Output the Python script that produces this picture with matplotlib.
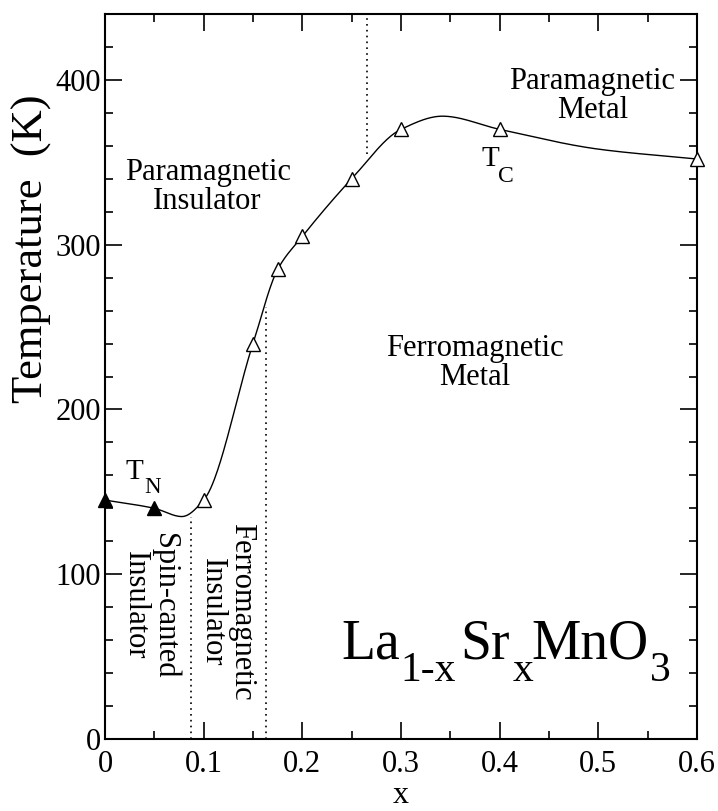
import numpy as np
import matplotlib
matplotlib.use("Agg")
import matplotlib.pyplot as plt
from matplotlib.ticker import MultipleLocator

plt.rcParams['font.family'] = ['Liberation Serif', 'DejaVu Serif']

# Neel temperatures (filled) and Curie temperatures (open)
x_neel = [0.0, 0.05]
t_neel = [145, 140]
x_curie = [0.1, 0.15, 0.175, 0.2, 0.25, 0.3, 0.4, 0.6]
t_curie = [145, 240, 285, 305, 340, 370, 370, 352]

# points
x_curve = [0.0, 0.05, 0.078, 0.1, 0.15, 0.175, 0.2, 0.25, 0.3, 0.342, 0.4, 0.5, 0.6]
t_curve = [145, 140, 135, 145, 240, 285, 305, 340, 370, 378, 370, 358, 352]

# dotted phase boundaries: x, lower T, upper T
x_bound = [0.087, 0.163, 0.266]
t_bound_lo = [0, 0, 355]
t_bound_hi = [135, 262, 440]

# formula pieces: text, x, baseline T, size
formula = [('La', 0.240, 49, 40), ('1-x', 0.299, 35, 30), ('Sr', 0.360, 49, 40),
           ('x', 0.4134, 35, 30), ('MnO', 0.4326, 49, 40), ('3', 0.5522, 35, 30)]
# T_N, T_C labels
temp_labels = [('T', 0.0203, 158, 21), ('N', 0.0395, 149, 16.5),
               ('T', 0.382, 348, 21), ('C', 0.398, 338, 17)]


def pchip(xk, yk, xs):
    """monotone cubic hermite through the knots"""
    xk = np.asarray(xk, float)
    yk = np.asarray(yk, float)
    h = np.diff(xk)
    d = np.diff(yk) / h
    m = np.zeros_like(yk)
    for i in range(1, len(xk) - 1):
        if d[i - 1] * d[i] > 0:
            w1 = 2 * h[i] + h[i - 1]
            w2 = h[i] + 2 * h[i - 1]
            m[i] = (w1 + w2) / (w1 / d[i - 1] + w2 / d[i])
    m[0] = d[0]
    m[-1] = d[-1]
    idx = np.clip(np.searchsorted(xk, xs) - 1, 0, len(h) - 1)
    t = (xs - xk[idx]) / h[idx]
    h00 = 2 * t**3 - 3 * t**2 + 1
    h10 = t**3 - 2 * t**2 + t
    h01 = -2 * t**3 + 3 * t**2
    h11 = t**3 - t**2
    return (h00 * yk[idx] + h10 * h[idx] * m[idx]
            + h01 * yk[idx + 1] + h11 * h[idx] * m[idx + 1])


fig = plt.figure(figsize=(7.18, 8.11), dpi=100)
ax = fig.add_axes([0.1462, 0.0888, 0.8246, 0.8939])

xs = np.linspace(0, 0.6, 600)
ax.plot(xs, pchip(x_curve, t_curve, xs), color='black', lw=1.0, zorder=2)

for xb, lo, hi in zip(x_bound, t_bound_lo, t_bound_hi):
    ax.plot([xb, xb], [lo, hi], color='black', ls=(0, (1, 2.5)), lw=1.2)

ax.plot(x_neel, t_neel, ls='none', marker='^', ms=10, color='black',
        clip_on=False, zorder=3)
ax.plot(x_curie, t_curie, ls='none', marker='^', ms=10, mfc='white',
        mec='black', mew=1.0, clip_on=False, zorder=3)

ax.set_xlim(0, 0.6)
ax.set_ylim(0, 440)
ax.xaxis.set_major_locator(MultipleLocator(0.1))
ax.xaxis.set_minor_locator(MultipleLocator(0.05))
ax.yaxis.set_major_locator(MultipleLocator(100))
ax.yaxis.set_minor_locator(MultipleLocator(20))
ax.set_xticks([0, 0.1, 0.2, 0.3, 0.4, 0.5, 0.6])
ax.set_xticklabels(['0', '0.1', '0.2', '0.3', '0.4', '0.5', '0.6'])
ax.tick_params(which='both', direction='in', top=True, right=True,
               labelsize=22, width=1.2)
ax.tick_params(which='major', length=12)
ax.tick_params(which='minor', length=6)
ax.tick_params(axis='x', pad=8)
ax.tick_params(axis='y', pad=3)
for s in ax.spines.values():
    s.set_linewidth(1.5)

xlab = ax.set_xlabel('x', fontsize=23)
xlab.set_va('baseline')
ax.xaxis.set_label_coords(0.5, -0.0883)
ax.set_ylabel('Temperature  (K)', fontsize=32)
ax.yaxis.set_label_coords(-0.09, 0.677)

ax.text(0.104, 335, 'Paramagnetic\nInsulator', fontsize=22, ha='center',
        va='center', linespacing=1.0)
ax.text(0.494, 390, 'Paramagnetic\nMetal', fontsize=22, ha='center',
        va='center', linespacing=1.0)
ax.text(0.375, 228, 'Ferromagnetic\nMetal', fontsize=22, ha='center',
        va='center', linespacing=1.0)
ax.text(0.046, 81, 'Spin-canted\nInsulator', fontsize=22, ha='center',
        va='center', rotation=-90, linespacing=1.0)
ax.text(0.124, 77, 'Ferromagnetic\nInsulator', fontsize=22, ha='center',
        va='center', rotation=-90, linespacing=1.0)

for s, xp, yp, fs in temp_labels + formula:
    ax.text(xp, yp, s, fontsize=fs, ha='left', va='baseline')

fig.savefig('out.png', dpi=100)
